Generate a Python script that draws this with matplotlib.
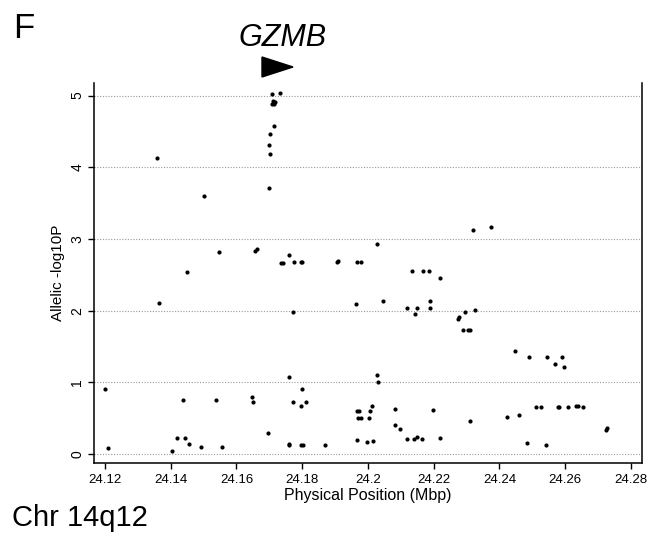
import numpy as np
import matplotlib
matplotlib.use("Agg")
import matplotlib.pyplot as plt
from matplotlib.patches import Polygon

plt.rcParams['font.family'] = ['Liberation Sans', 'DejaVu Sans']

# physical position (Mbp) and allelic -log10P
pos = [24.1707, 24.1732, 24.1711, 24.1718, 24.1707, 24.1713, 24.1715, 24.1701,
       24.1698, 24.1701, 24.1357, 24.1698, 24.1501, 24.1546, 24.1656, 24.1661,
       24.1735, 24.1741, 24.1761, 24.1448, 24.1363, 24.1760, 24.1200, 24.1209,
       24.1436, 24.1537, 24.1646, 24.1650, 24.1695, 24.1760, 24.1418, 24.1444,
       24.1456, 24.1403, 24.1491, 24.1557, 24.2320, 24.2027, 24.1775, 24.1795,
       24.1800, 24.1907, 24.1910, 24.1967, 24.1979, 24.2134, 24.2166, 24.2185,
       24.2219, 24.1963, 24.2046, 24.2118, 24.2149, 24.2143, 24.2189, 24.2189,
       24.1773, 24.2275, 24.2277, 24.2295, 24.2326, 24.2288, 24.2304, 24.2310,
       24.2026, 24.2030, 24.1798, 24.1771, 24.1811, 24.1796, 24.1966, 24.1972,
       24.2006, 24.2012, 24.1970, 24.1978, 24.2004, 24.2082, 24.2197, 24.2082,
       24.2098, 24.2310, 24.1761, 24.1796, 24.1801, 24.1868, 24.1966, 24.1997,
       24.2014, 24.2118, 24.2141, 24.2150, 24.2163, 24.2220, 24.2447, 24.2489,
       24.2544, 24.2591, 24.2568, 24.2596, 24.2424, 24.2459, 24.2511, 24.2527,
       24.2577, 24.2582, 24.2607, 24.2633, 24.2640, 24.2654, 24.2724, 24.2728,
       24.2485, 24.2540, 24.2375]
logp = [5.02, 5.04, 4.92, 4.91, 4.88, 4.88, 4.57, 4.46,
        4.31, 4.19, 4.13, 3.71, 3.60, 2.82, 2.83, 2.86,
        2.67, 2.67, 2.78, 2.54, 2.10, 1.07, 0.90, 0.08,
        0.76, 0.76, 0.79, 0.72, 0.30, 0.135, 0.23, 0.23,
        0.135, 0.04, 0.10, 0.10, 3.13, 2.93, 2.68, 2.68,
        2.68, 2.68, 2.69, 2.68, 2.68, 2.55, 2.55, 2.55,
        2.45, 2.09, 2.14, 2.03, 2.03, 1.95, 2.13, 2.03,
        1.98, 1.88, 1.91, 1.98, 2.01, 1.73, 1.73, 1.73,
        1.10, 1.00, 0.91, 0.72, 0.72, 0.67, 0.60, 0.60,
        0.60, 0.67, 0.50, 0.50, 0.50, 0.63, 0.61, 0.41,
        0.35, 0.46, 0.125, 0.125, 0.125, 0.125, 0.195, 0.17,
        0.18, 0.205, 0.205, 0.24, 0.205, 0.23, 1.44, 1.36,
        1.36, 1.36, 1.26, 1.22, 0.52, 0.55, 0.65, 0.65,
        0.65, 0.65, 0.65, 0.67, 0.67, 0.65, 0.34, 0.36,
        0.15, 0.12, 3.16]

xticks = [24.12, 24.14, 24.16, 24.18, 24.2, 24.22, 24.24, 24.26, 24.28]
xlabels = ["24.12", "24.14", "24.16", "24.18", "24.2", "24.22", "24.24", "24.26", "24.28"]
yticks = [0, 1, 2, 3, 4, 5]

fig = plt.figure(figsize=(6.49, 5.43), dpi=100)
ax = fig.add_axes([0.1448, 0.1473, 0.8444, 0.6998])

for y in yticks:
    ax.axhline(y, color="#999999", lw=0.8, ls=(0, (1, 1.5)), zorder=1)

ax.scatter(pos, logp, s=9, color="black", zorder=3, linewidths=0)

ax.set_xlim(24.11665, 24.28335)
ax.set_ylim(-0.1255, 5.174)
ax.set_xticks(xticks)
ax.set_xticklabels(xlabels, fontsize=9.5)
ax.set_yticks(yticks)
ax.set_yticklabels([str(v) for v in yticks], fontsize=10, rotation=90, va="center")
ax.tick_params(direction="out", length=4, width=1, pad=3)
ax.tick_params(axis="x", pad=4)
ax.spines["top"].set_visible(False)
for s in ["left", "right", "bottom"]:
    ax.spines[s].set_linewidth(1.1)

ax.set_xlabel("Physical Position (Mbp)", fontsize=11.5, labelpad=1)
ax.set_ylabel("Allelic -log10P", fontsize=11)
ax.yaxis.set_label_coords(-0.053, 0.5)

fig.text(0.02, 0.978, "F", fontsize=25, va="top", ha="left")
fig.text(283 / 649, 1 - 38 / 543, "GZMB", fontsize=22, style="italic",
         ha="center", va="center")
tri = Polygon([[262 / 649, 1 - 57 / 543], [293 / 649, 1 - 67 / 543],
               [262 / 649, 1 - 77 / 543]], closed=True, color="black",
              transform=fig.transFigure)
fig.patches.append(tri)
fig.text(0.018, 1 - 518 / 543, "Chr 14q12", fontsize=21, va="center", ha="left")

fig.savefig("out.png", dpi=100)
